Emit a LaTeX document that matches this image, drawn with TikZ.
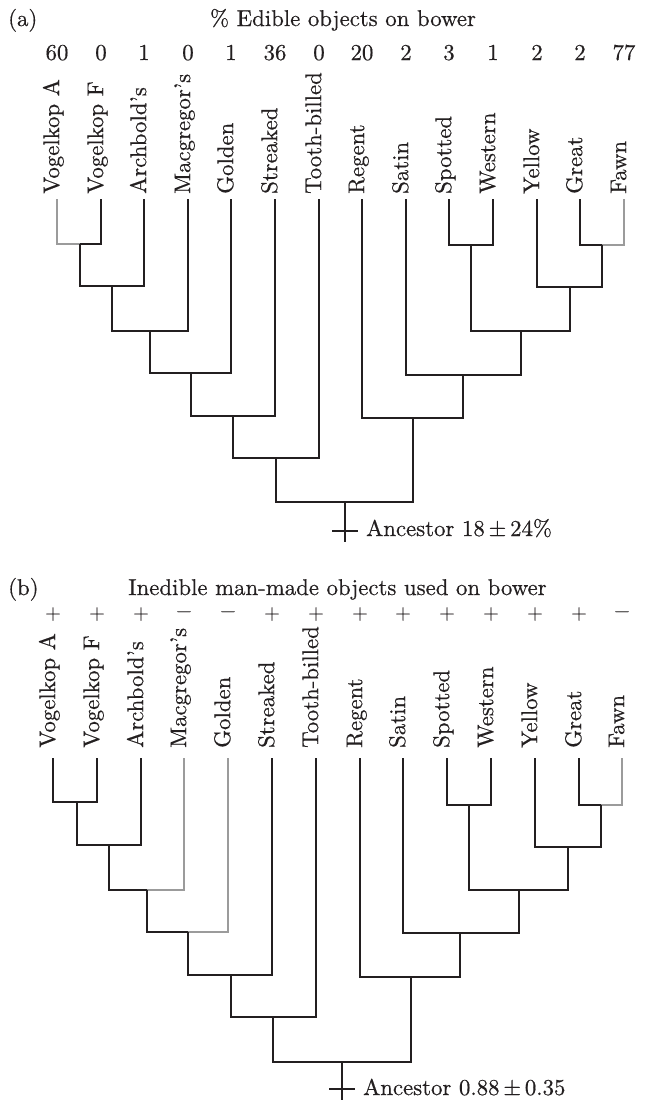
\documentclass[tikz,border=0pt]{standalone}
\usepackage{fontspec}
\setmainfont{lmroman10-regular}[Extension=.otf, FakeBold=0.5]
\newcommand{\lblfont}{\fontsize{22.8}{27}\selectfont}
\newcommand{\sgnfont}{\fontsize{20}{24}\selectfont}
\definecolor{lc}{RGB}{35,31,32}
\definecolor{lg}{RGB}{155,155,155}
\tikzset{
  br/.style={draw=lc, line width=2.3pt, line join=miter},
  gbr/.style={br, draw=lg},
  lab/.style={rotate=90, anchor=mid west, inner sep=0pt, font=\lblfont, text=lc},
  num/.style={anchor=base, inner sep=0pt, font=\lblfont, text=lc},
  sgn/.style={anchor=center, inner sep=0pt, font=\sgnfont, text=lc},
  ttl/.style={anchor=base, inner sep=0pt, font=\lblfont, text=lc},
}
\begin{document}
\begin{tikzpicture}[x=1pt,y=-1pt]
\useasboundingbox (0,0) rectangle (651,1100);
\fill[white] (0,0) rectangle (651,1100);

% ================= Panel (a) =================
\node[ttl, anchor=base west] (pa) at (8,26) {(a)};
\node[ttl] (ta) at (343,26) {\% Edible objects on bower};
\foreach \i/\x/\lab/\v in {0/57/Vogelkop A/60, 1/101/Vogelkop F/0, 2/144/Archbold’s/1,
  3/188/Macgregor’s/0, 4/231/Golden/1, 5/275/Streaked/36, 6/319/Tooth-billed/0,
  7/362/Regent/20, 8/406/Satin/2, 9/449/Spotted/3, 10/493/Western/1,
  11/537/Yellow/2, 12/580/Great/2, 13/624/Fawn/77}{
  \coordinate (a\i) at (\x,199);
  \node[lab] (la\i) at (\x,194) {\lab};
  \node[num] (va\i) at (\x,60) {\v};
}
\coordinate (an1) at (80,244);
\coordinate (an2) at (112,286);
\coordinate (an3) at (150,331);
\coordinate (an4) at (191,373);
\coordinate (an5) at (233,416);
\coordinate (an6) at (276,458);
\coordinate (ar1) at (471,245);
\coordinate (ar2) at (602,245);
\coordinate (ar3) at (570,287);
\coordinate (ar4) at (521,331);
\coordinate (ar5) at (463,375);
\coordinate (ar6) at (413,418);
\coordinate (aroot) at (345,502);
\coordinate (aend) at (345,542);
\coordinate (acl) at (332,531);
\coordinate (acr) at (358,531);

\draw[gbr] (an1) -| (a0);
\draw[br] (an1) -| (a1);
\draw[br] (an2) -| (an1);
\draw[br] (an2) -| (a2);
\draw[br] (an3) -| (an2);
\draw[br] (an3) -| (a3);
\draw[br] (an4) -| (an3);
\draw[br] (an4) -| (a4);
\draw[br] (an5) -| (an4);
\draw[br] (an5) -| (a5);
\draw[br] (an6) -| (an5);
\draw[br] (an6) -| (a6);
\draw[br] (ar1) -| (a9);
\draw[br] (ar1) -| (a10);
\draw[br] (ar2) -| (a12);
\draw[gbr] (ar2) -| (a13);
\draw[br] (ar3) -| (a11);
\draw[br] (ar3) -| (ar2);
\draw[br] (ar4) -| (ar1);
\draw[br] (ar4) -| (ar3);
\draw[br] (ar5) -| (a8);
\draw[br] (ar5) -| (ar4);
\draw[br] (ar6) -| (a7);
\draw[br] (ar6) -| (ar5);
\draw[br] (aroot) -| (an6);
\draw[br] (aroot) -| (ar6);
\draw[br] (aroot) -- (aend);
\draw[br] (acl) -- (acr);
\node[ttl, anchor=base west] (anca) at (366,536) {Ancestor 18\,±\,24\%};

% ================= Panel (b) =================
\node[ttl, anchor=base west] (pb) at (8,595) {(b)};
\node[ttl] (tb) at (337.5,595) {Inedible man-made objects used on bower};
\foreach \i/\x/\lab/\v in {0/53/Vogelkop A/+, 1/97/Vogelkop F/+, 2/141/Archbold’s/+,
  3/184/Macgregor’s/−, 4/228/Golden/−, 5/272/Streaked/+, 6/316/Tooth-billed/+,
  7/360/Regent/+, 8/403/Satin/+, 9/447/Spotted/+, 10/491/Western/+,
  11/535/Yellow/+, 12/579/Great/+, 13/622/Fawn/−}{
  \coordinate (b\i) at (\x,758);
  \node[lab] (lb\i) at (\x,748) {\lab};
  \node[sgn] (sb\i) at (\x,614) {\v};
}
\coordinate (bn1) at (77,802);
\coordinate (bn2) at (109,845);
\coordinate (bn3) at (147,890);
\coordinate (bn4) at (188,932);
\coordinate (bn5) at (231,975);
\coordinate (bn6) at (273,1017);
\coordinate (br1) at (469,805);
\coordinate (br2) at (601,805);
\coordinate (br3) at (568,847);
\coordinate (br4) at (519,890);
\coordinate (br5) at (460,933);
\coordinate (br6) at (411,977);
\coordinate (broot) at (342,1062);
\coordinate (bend) at (342,1100);
\coordinate (bcl) at (329,1089);
\coordinate (bcr) at (355,1089);

\draw[br] (bn1) -| (b0);
\draw[br] (bn1) -| (b1);
\draw[br] (bn2) -| (bn1);
\draw[br] (bn2) -| (b2);
\draw[br] (bn3) -| (bn2);
\draw[gbr] (bn3) -| (b3);
\draw[br] (bn4) -| (bn3);
\draw[gbr] (bn4) -| (b4);
\draw[br] (bn5) -| (bn4);
\draw[br] (bn5) -| (b5);
\draw[br] (bn6) -| (bn5);
\draw[br] (bn6) -| (b6);
\draw[br] (br1) -| (b9);
\draw[br] (br1) -| (b10);
\draw[br] (br2) -| (b12);
\draw[gbr] (br2) -| (b13);
\draw[br] (br3) -| (b11);
\draw[br] (br3) -| (br2);
\draw[br] (br4) -| (br1);
\draw[br] (br4) -| (br3);
\draw[br] (br5) -| (b8);
\draw[br] (br5) -| (br4);
\draw[br] (br6) -| (b7);
\draw[br] (br6) -| (br5);
\draw[br] (broot) -| (bn6);
\draw[br] (broot) -| (br6);
\draw[br] (broot) -- (bend);
\draw[br] (bcl) -- (bcr);
\node[ttl, anchor=base west] (ancb) at (363,1095) {Ancestor 0.88\,±\,0.35};
\end{tikzpicture}
\end{document}
